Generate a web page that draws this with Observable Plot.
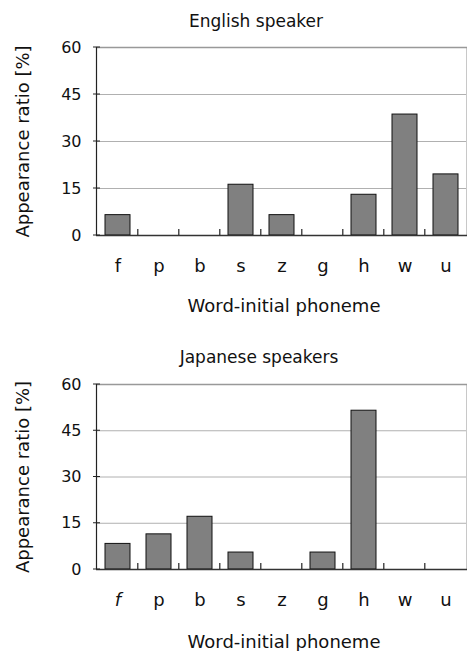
<!DOCTYPE html>
<html>
<head>
<meta charset="utf-8">
<script src="https://cdn.jsdelivr.net/npm/d3@7"></script>
<script src="https://cdn.jsdelivr.net/npm/@observablehq/plot@0.6"></script>
<style>
  body { margin: 0; background: #fff; }
  #chart svg { display: block; }
</style>
</head>
<body>
<div id="chart"></div>
<script>
const categories = ["f", "p", "b", "s", "z", "g", "h", "w", "u"];
const englishValues = [6.5, 0, 0, 16.2, 6.5, 0, 13.0, 38.6, 19.5];
const japaneseValues = [8.3, 11.4, 17.1, 5.5, 0, 5.5, 51.5, 0, 0];
const yTicks = [0, 15, 30, 45, 60];
const titles = ["English speaker", "Japanese speakers"];
const xLabel = "Word-initial phoneme";
const yLabel = "Appearance ratio [%]";

const FONT = "DejaVu Sans, sans-serif";

function chart(values, title, opts) {
  const data = categories.map((c, i) => ({phoneme: c, value: values[i]}));
  const plot = Plot.plot({
    width: 467,
    height: opts.height,
    marginTop: opts.marginTop,
    marginBottom: opts.marginBottom,
    marginLeft: 96,
    marginRight: 0,
    style: {fontFamily: FONT, background: "#fff", overflow: "visible"},
    x: {domain: categories, paddingInner: 0.4, paddingOuter: 0.2, label: null},
    y: {domain: [0, 60], ticks: yTicks, label: null},
    marks: [
      Plot.ruleY(yTicks.filter(t => t > 0 && t < 60), {stroke: "#b0b0b0", strokeWidth: 1}),
      (index, scales, values, dim) => {
        const g = d3.create("svg:g");
        const x1 = dim.width - dim.marginRight;
        const y0 = dim.marginTop, y1 = dim.height - dim.marginBottom;
        g.append("line").attr("x1", x1 - 0.5).attr("x2", x1 - 0.5).attr("y1", y0).attr("y2", y1)
          .attr("stroke", "#c8c8c8");
        return g.node();
      },
      Plot.ruleY([60], {stroke: "#999", strokeWidth: 1.5}),
      Plot.barY(data, {x: "phoneme", y: "value", filter: d => d.value > 0,
        fill: "#808080", stroke: "#111", strokeWidth: 1}),
      Plot.ruleY([0], {stroke: "#333", strokeWidth: 1.5}),
      (index, scales, values, dim) => {
        const g = d3.create("svg:g");
        const x = scales.x;
        const y0 = dim.marginTop, y1 = dim.height - dim.marginBottom;
        g.append("line").attr("x1", dim.marginLeft + 0.5).attr("x2", dim.marginLeft + 0.5)
          .attr("y1", y0).attr("y2", y1).attr("stroke", "#222").attr("stroke-width", 1.2);
        const step = x.step();
        categories.slice(1).forEach(c => {
          const bx = x(c) - step * 0.2;
          g.append("line").attr("x1", bx).attr("x2", bx).attr("y1", y1).attr("y2", y1 - 6)
            .attr("stroke", "#222").attr("stroke-width", 1.2);
        });
        yTicks.forEach(t => {
          g.append("line").attr("x1", dim.marginLeft - 3).attr("x2", dim.marginLeft + 4)
            .attr("y1", scales.y(t)).attr("y2", scales.y(t)).attr("stroke", "#222");
        });
        return g.node();
      },
      Plot.axisY({ticks: yTicks, tickSize: 0, tickPadding: 15, fontSize: 16, label: null,
        style: {letterSpacing: "1px"}, fill: "#111"}),
      Plot.axisX({tickSize: 0, tickPadding: 24, fontSize: 18, label: null, fill: "#111"}),
      Plot.text([title], {frameAnchor: "top", dx: opts.titleDx, dy: opts.titleDy, lineAnchor: "middle",
        fontSize: 17, fill: "#111", style: {letterSpacing: "0.5px", wordSpacing: "3px"}}),
      Plot.text([xLabel], {frameAnchor: "bottom", dx: 2, dy: opts.xLabelDy, lineAnchor: "middle",
        fontSize: 18, fill: "#111", style: {letterSpacing: "0.4px", wordSpacing: "3px"}}),
      Plot.text([yLabel], {frameAnchor: "left", textAnchor: "middle", dx: -73, dy: 0, rotate: -90,
        lineAnchor: "middle", fontSize: 18, fill: "#111", style: {letterSpacing: "0.5px", wordSpacing: "2px"}})
    ]
  });
  return plot;
}

const topChart = chart(englishValues, titles[0], {height: 325, marginTop: 47, marginBottom: 90,
  titleDy: -26, titleDx: -26, xLabelDy: 71});
const bottomChart = chart(japaneseValues, titles[1], {height: 326, marginTop: 59, marginBottom: 82,
  titleDy: -27, titleDx: -23, xLabelDy: 73});

d3.select(bottomChart).selectAll("text").filter(function() { return this.textContent === "f"; })
  .attr("font-style", "italic");

document.getElementById("chart").append(topChart, bottomChart);
</script>
</body>
</html>
